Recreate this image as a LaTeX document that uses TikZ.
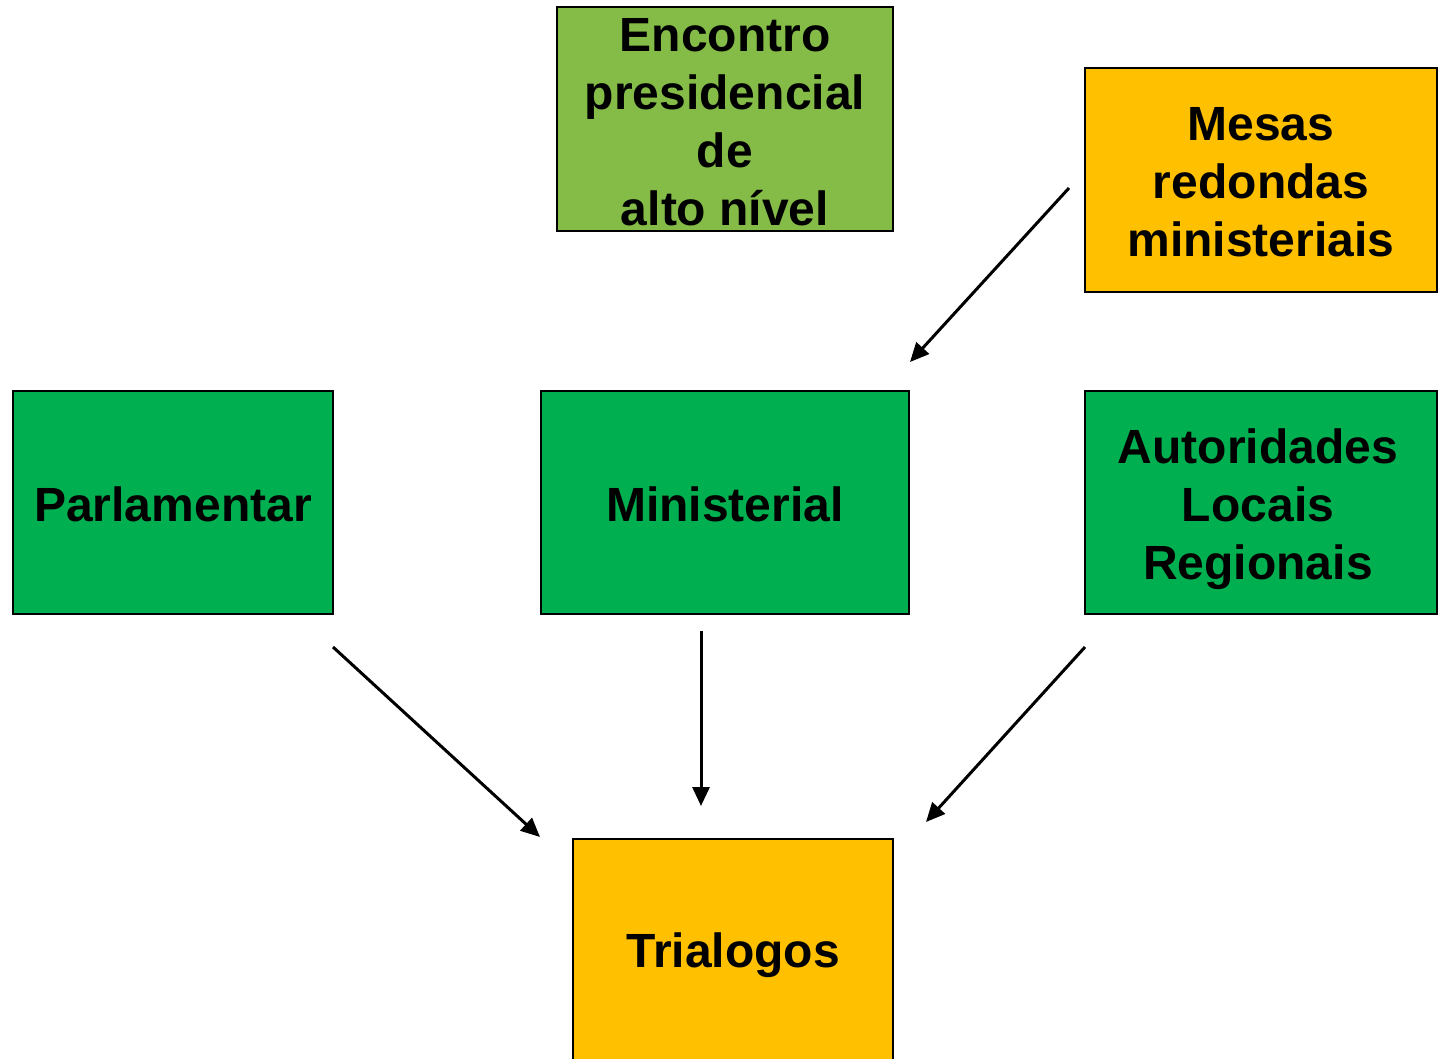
\documentclass[tikz,border=0pt]{standalone}
\usepackage{fontspec}
\setmainfont{Liberation Sans}
\usetikzlibrary{arrows.meta}
\definecolor{lgreen}{HTML}{84BC47}
\definecolor{dgreen}{HTML}{00B050}
\definecolor{gold}{HTML}{FFC000}
\begin{document}
\begin{tikzpicture}[x=1pt,y=-1pt,
  box/.style={draw=black,line width=2pt,inner sep=0pt},
  txt/.style={align=center,inner sep=0pt,
    font=\fontsize{48}{58}\selectfont\bfseries},
  arr/.style={line width=3pt,-{Triangle[length=19pt,width=17pt]}}]
\useasboundingbox (0,0) rectangle (1441,1058);
\begin{scope}
\clip (0,0) rectangle (1441,1058);
\node[box,fill=lgreen,minimum width=336pt,minimum height=224pt] (enc) at (725,119) {};
\node[box,fill=gold,minimum width=352pt,minimum height=224pt] (mesas) at (1261,180) {};
\node[box,fill=dgreen,minimum width=320pt,minimum height=223pt] (parl) at (173,502.5) {};
\node[box,fill=dgreen,minimum width=368pt,minimum height=223pt] (min) at (725,502.5) {};
\node[box,fill=dgreen,minimum width=352pt,minimum height=223pt] (aut) at (1261,502.5) {};
\node[box,fill=gold,minimum width=320pt,minimum height=224pt] (tri) at (733,951) {};
\end{scope}
\node[txt] (enct) at ([yshift=-3pt]enc.center) {Encontro\\presidencial\\de\\alto nível};
\node[txt] (mesast) at ([yshift=-2pt]mesas.center) {Mesas\\redondas\\ministeriais};
\node[txt] (parlt) at ([yshift=-2pt]parl.center) {Parlamentar};
\node[txt] (mint) at ([yshift=-2pt]min.center) {Ministerial};
\node[txt] (autt) at ([xshift=-3pt,yshift=-7pt]aut.center) {Autoridades\\Locais\\Regionais};
\node[txt] (trit) at ([yshift=-4pt]tri.center) {Trialogos};
\coordinate (a1s) at (1069,188);
\coordinate (a1e) at (910,362);
\coordinate (a2s) at (333,647);
\coordinate (a2e) at (540,837);
\coordinate (a3s) at (701,631);
\coordinate (a3e) at (701,806);
\coordinate (a4s) at (1085,647);
\coordinate (a4e) at (926,822);
\draw[arr] (a1s) -- (a1e);
\draw[arr] (a2s) -- (a2e);
\draw[arr] (a3s) -- (a3e);
\draw[arr] (a4s) -- (a4e);
\end{tikzpicture}
\end{document}
